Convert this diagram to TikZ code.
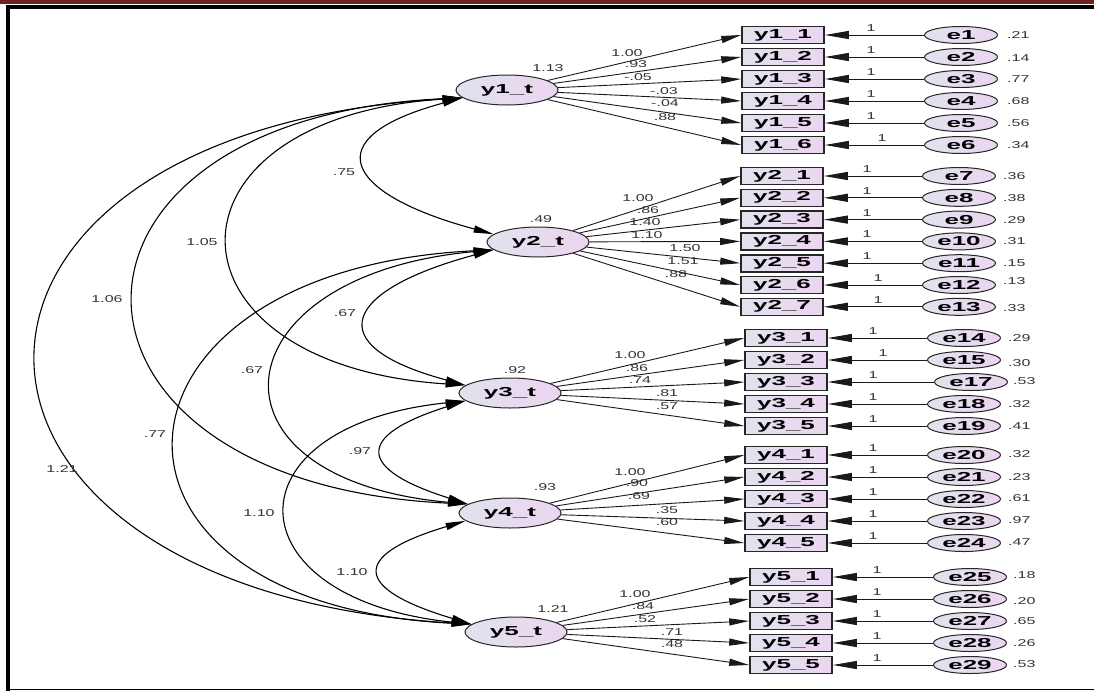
\documentclass[tikz,border=0pt]{standalone}
\usepackage{fontspec}
\setmainfont{Liberation Sans}
\newfontfamily\lblfont[FakeStretch=2.0]{Liberation Sans}
\newfontfamily\numfont[FakeStretch=1.6]{Liberation Sans}
\usetikzlibrary{arrows.meta,shapes.geometric}
\definecolor{topred}{HTML}{6B2222}
\definecolor{fillL}{HTML}{E2E2EE}
\definecolor{fillR}{HTML}{EBD5F0}
\tikzset{
 latent/.style={ellipse, draw=black!85, line width=1pt, minimum width=102pt, minimum height=30pt, inner sep=0pt, left color=fillL, right color=fillR, font=\lblfont\bfseries\fontsize{13}{13}\selectfont},
 obs/.style={rectangle, draw=black!85, line width=1.6pt, minimum width=82pt, minimum height=17pt, inner sep=0pt, left color=fillL, right color=fillR, font=\lblfont\bfseries\fontsize{13}{13}\selectfont},
 err/.style={ellipse, draw=black!85, line width=1pt, minimum width=73pt, minimum height=17pt, inner sep=0pt, left color=fillL, right color=fillR, font=\lblfont\bfseries\fontsize{13}{13}\selectfont},
 lab/.style={font=\numfont\fontsize{10}{10}\selectfont, text=black!80, inner sep=0pt},
 load/.style={draw=black!90, line width=0.9pt, -{Triangle[length=20pt,width=7pt]}},
 errarr/.style={draw=black!90, line width=0.9pt, -{Triangle[length=24pt,width=8pt]}},
 cov/.style={draw=black, line width=1.1pt, {Triangle[length=20pt,width=7pt]}-{Triangle[length=20pt,width=7pt]}},
}
\begin{document}
\begin{tikzpicture}[x=1pt,y=-1pt]
\useasboundingbox (0,0) rectangle (1094,691);
% frame
\fill[topred] (0,0) rectangle (1094,3.5);
\fill[black] (6,5) rectangle (1094,9);
\fill[black] (6,5) rectangle (10,691);
\draw[black, line width=1.2pt] (6,689.4) -- (1094,689.4);

% latent variables
\node[latent] (y1t) at (507,90) {y1\_t};
\node[latent] (y2t) at (538,242) {y2\_t};
\node[latent] (y3t) at (510,393) {y3\_t};
\node[latent] (y4t) at (510,513) {y4\_t};
\node[latent] (y5t) at (516,632) {y5\_t};

% variances of latents
\node[lab] (vy1) at (548,68) {1.13};
\node[lab] (vy2) at (541,219) {.49};
\node[lab] (vy3) at (515,370) {.92};
\node[lab] (vy4) at (545,487) {.93};
\node[lab] (vy5) at (553,609) {1.21};

% block 1
\foreach \i/\y/\e/\v/\ox/\vy in {1/35/1/.21/871/35, 2/57/2/.14/871/58, 3/79/3/.77/871/79, 4/101/4/.68/871/101, 5/123/5/.56/871/123, 6/145/6/.34/882/145}{
  \node[obs] (y1\i) at (783,\y) {y1\_\i};
  \node[err] (e\e) at (961,\y) {e\e};
  \draw[errarr] (e\e) -- (y1\i);
  \node[lab] (o\e) at (\ox,\y-7) {1};
  \node[lab,anchor=west] (v\e) at (1007,\vy) {\v};
  \draw[load] (y1t) -- (y1\i.west);
}
% block 2
\foreach \i/\y/\e/\v/\ox/\vy in {1/176/7/.36/867/176, 2/197.8/8/.38/867/198, 3/219.6/9/.29/867/220, 4/241.4/10/.31/867/241, 5/263.2/11/.15/867/263, 6/285/12/.13/878/281, 7/306.8/13/.33/878/308}{
  \node[obs] (y2\i) at (782,\y) {y2\_\i};
  \node[err] (e\e) at (959,\y) {e\e};
  \draw[errarr] (e\e) -- (y2\i);
  \node[lab] (o\e) at (\ox,\y-7) {1};
  \node[lab,anchor=west] (v\e) at (1003,\vy) {\v};
  \draw[load] (y2t) -- (y2\i.west);
}
% block 3
\foreach \i/\y/\e/\ex/\v/\ox/\vx/\vy in {1/338/14/964/.29/873/1008/338, 2/360/15/964/.30/883/1008/363, 3/382/17/971/.53/873/1013/381, 4/404/18/964/.32/873/1008/404, 5/426/19/964/.41/873/1008/426}{
  \node[obs] (y3\i) at (786,\y) {y3\_\i};
  \node[err] (e\e) at (\ex,\y) {e\e};
  \draw[errarr] (e\e) -- (y3\i);
  \node[lab] (o\e) at (\ox,\y-7) {1};
  \node[lab,anchor=west] (v\e) at (\vx,\vy) {\v};
  \draw[load] (y3t) -- (y3\i.west);
}
% block 4
\foreach \i/\y/\e/\v/\vy in {1/455/20/.32/454, 2/477/21/.23/477, 3/499/22/.61/498, 4/521/23/.97/520, 5/543/24/.47/542}{
  \node[obs] (y4\i) at (786,\y) {y4\_\i};
  \node[err] (e\e) at (964,\y) {e\e};
  \draw[errarr] (e\e) -- (y4\i);
  \node[lab] (o\e) at (873,\y-7) {1};
  \node[lab,anchor=west] (v\e) at (1008,\vy) {\v};
  \draw[load] (y4t) -- (y4\i.west);
}
% block 5
\foreach \i/\y/\e/\v/\vy in {1/577/25/.18/575, 2/599/26/.20/601, 3/621/27/.65/621, 4/643/28/.26/643, 5/665/29/.53/664}{
  \node[obs] (y5\i) at (791,\y) {y5\_\i};
  \node[err] (e\e) at (970,\y) {e\e};
  \draw[errarr] (e\e) -- (y5\i);
  \node[lab] (o\e) at (877,\y-7) {1};
  \node[lab,anchor=west] (v\e) at (1013,\vy) {\v};
  \draw[load] (y5t) -- (y5\i.west);
}

% loading labels
\foreach \t/\x/\y [count=\k] in {1.00/627/53, .93/636/64, -.05/638/77, -.03/664/91, -.04/665/103, .88/665/117}
  \node[lab] (la\k) at (\x,\y) {\t};
\foreach \t/\x/\y [count=\k] in {1.00/638/198, .86/648/210, 1.40/645/222, 1.10/647/235, 1.50/685/248, 1.51/683/261, .88/676/274}
  \node[lab] (lb\k) at (\x,\y) {\t};
\foreach \t/\x/\y [count=\k] in {1.00/630/355, .86/637/368, .74/640/380, .81/667/393, .57/667/406}
  \node[lab] (lc\k) at (\x,\y) {\t};
\foreach \t/\x/\y [count=\k] in {1.00/630/472, .90/637/483, .69/639/496, .35/667/510, .60/667/522}
  \node[lab] (ld\k) at (\x,\y) {\t};
\foreach \t/\x/\y [count=\k] in {1.00/635/594, .84/643/606, .52/645/619, .71/672/632, .48/672/644}
  \node[lab] (le\k) at (\x,\y) {\t};

% covariances
\draw[cov] (y1t.190) .. controls +(-149,40) and +(-149,-40) .. (y2t.170);
\draw[cov] (y1t.190) .. controls +(-312,20) and +(-312,-20) .. (y3t.170);
\draw[cov] (y1t.190) .. controls +(-439,20) and +(-439,-20) .. (y4t.168);
\draw[cov] (y1t.190) .. controls +(-571,34) and +(-571,-34) .. (y5t.170);
\draw[cov] (y2t.190) .. controls +(-149,40) and +(-149,-40) .. (y3t.170);
\draw[cov] (y2t.190) .. controls +(-276,25) and +(-276,-25) .. (y4t.168);
\draw[cov] (y2t.190) .. controls +(-407,20) and +(-407,-20) .. (y5t.170);
\draw[cov] (y3t.190) .. controls +(-111,35) and +(-111,-35) .. (y4t.168);
\draw[cov] (y3t.190) .. controls +(-241,25) and +(-241,-25) .. (y5t.170);
\draw[cov] (y4t.190) .. controls +(-117,35) and +(-117,-35) .. (y5t.170);

\node[lab] (c1) at (344,172) {.75};
\node[lab] (c2) at (202,242) {1.05};
\node[lab] (c3) at (107,299) {1.06};
\node[lab] (c4) at (62,469) {1.21};
\node[lab] (c5) at (345,313) {.67};
\node[lab] (c6) at (252,370) {.67};
\node[lab] (c7) at (155,434) {.77};
\node[lab] (c8) at (360,451) {.97};
\node[lab] (c9) at (259,513) {1.10};
\node[lab] (c10) at (352,572) {1.10};
\end{tikzpicture}
\end{document}
